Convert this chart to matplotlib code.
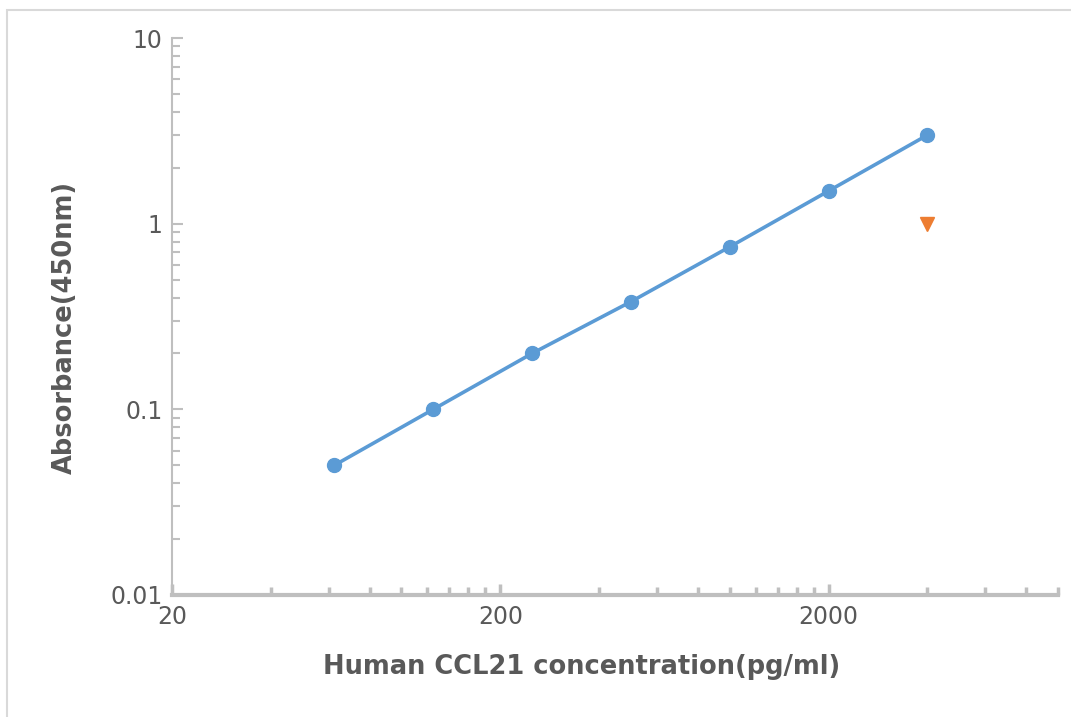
import matplotlib
matplotlib.use("Agg")
import matplotlib.pyplot as plt
from matplotlib.patches import Rectangle
from matplotlib.ticker import FixedLocator, NullFormatter

plt.rcParams["font.family"] = ["DejaVu Sans"]

# standard curve data
conc = [62.5, 125, 250, 500, 1000, 2000, 4000]
absorbance = [0.05, 0.1, 0.2, 0.38, 0.75, 1.5, 3.0]
# the orange point
extra_x = [4000]
extra_y = [1.0]

x_major = [20, 200, 2000]
x_labels = ["20", "200", "2000"]
x_minor = [20 * k * 10 ** n for n in range(3) for k in range(2, 10)]
y_major = [0.01, 0.1, 1, 10]
y_labels = ["0.01", "0.1", "1", "10"]
y_minor = [k * 10.0 ** n for n in range(-2, 1) for k in range(2, 10)]

grey = "#bfbfbf"
txt = "#595959"

fig = plt.figure(figsize=(10.71, 7.17), dpi=100)
# light frame on the top and left like the source image
fig.patches.append(Rectangle((7 / 1071, -0.05), 1.1, 1 - 10 / 717 + 0.05,
                             transform=fig.transFigure, fill=False,
                             edgecolor="#d9d9d9", lw=1.5))
ax = fig.add_axes([172 / 1071, 1 - 595 / 717, (1058 - 172) / 1071, (595 - 38) / 717])

ax.plot(conc, absorbance, color="#5b9bd5", lw=2.6, marker="o", ms=10, zorder=3)
ax.plot(extra_x, extra_y, ls="none", marker="v", color="#ed7d31", ms=10.5, zorder=3)

ax.set_xscale("log")
ax.set_yscale("log")
ax.set_xlim(20, 10000)
ax.set_ylim(0.01, 10)

ax.xaxis.set_major_locator(FixedLocator(x_major))
ax.xaxis.set_minor_locator(FixedLocator(x_minor))
ax.yaxis.set_major_locator(FixedLocator(y_major))
ax.yaxis.set_minor_locator(FixedLocator(y_minor))
ax.set_xticklabels(x_labels)
ax.set_yticklabels(y_labels)
ax.xaxis.set_minor_formatter(NullFormatter())
ax.yaxis.set_minor_formatter(NullFormatter())

for s in ["top", "right"]:
    ax.spines[s].set_visible(False)
ax.spines["bottom"].set_color(grey)
ax.spines["bottom"].set_linewidth(3)
ax.spines["left"].set_color(grey)
ax.spines["left"].set_linewidth(1.5)

ax.tick_params(axis="x", which="major", direction="in", length=8, width=2.5, color=grey,
               labelsize=17, labelcolor=txt, pad=7)
ax.tick_params(axis="x", which="minor", direction="in", length=6, width=2.5, color=grey)
ax.tick_params(axis="y", which="major", direction="in", length=8, width=1.5, color=grey,
               labelsize=17, labelcolor=txt, pad=7)
ax.tick_params(axis="y", which="minor", direction="in", length=6, width=1.5, color=grey)

ax.set_xlabel("Human CCL21 concentration(pg/ml)", fontsize=18.5, fontweight="bold",
              color=txt, va="center")
ax.set_ylabel("Absorbance(450nm)", fontsize=18.5, fontweight="bold", color=txt, va="center")
ax.xaxis.set_label_coords((582 - 172) / 886, (595 - 667) / 557)
ax.yaxis.set_label_coords((65 - 172) / 886, (595 - 327) / 557)

fig.savefig("out.png", dpi=100)
